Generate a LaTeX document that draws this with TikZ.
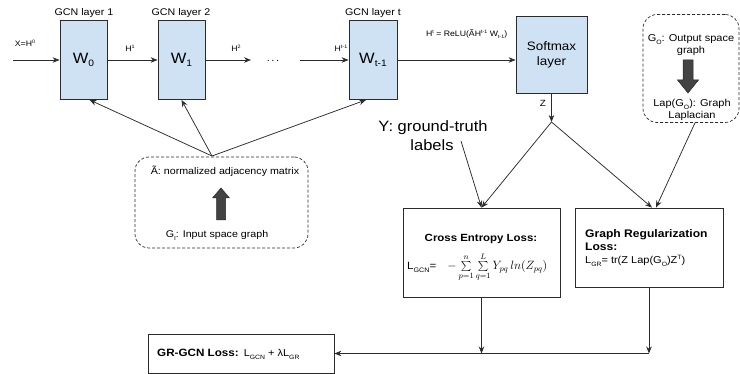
\documentclass[tikz,border=0pt]{standalone}
\usepackage{fontspec}
\setmainfont{Liberation Sans}[FakeStretch=1.1]
\usetikzlibrary{arrows.meta}
\definecolor{boxblue}{HTML}{CFE2F3}
\definecolor{edgec}{HTML}{2B2B2B}
\definecolor{darkarr}{HTML}{434343}
\newcommand\lsub[1]{\raisebox{-0.45ex}{\scalebox{0.62}{#1}}}
\newcommand\lsup[1]{\raisebox{0.85ex}{\scalebox{0.62}{#1}}}
\newcommand\fs[1]{\fontsize{#1}{#1}\selectfont}
\begin{document}
\begin{tikzpicture}[x=1pt,y=-1pt,
  layer/.style={draw=edgec, line width=0.8pt, fill=boxblue, minimum width=47pt, minimum height=79pt, inner sep=0pt, font=\fs{15}},
  plainbox/.style={draw=edgec, line width=0.8pt, fill=white, inner sep=0pt},
  dashbox/.style={draw=edgec, line width=0.7pt, dash pattern=on 3pt off 2pt, rounded corners=14pt, inner sep=0pt},
  conn/.style={draw=edgec, line width=0.75pt, -{Stealth[length=7pt,width=5.5pt]}},
  lbl/.style={font=\fs{7.9}, inner sep=0pt, anchor=base},
  ttl/.style={font=\fs{9.7}, inner sep=0pt, anchor=base},
  txt/.style={inner sep=0pt, anchor=base},
  blockarr/.style={fill=darkarr, draw=black!85, line width=0.5pt}
]
\useasboundingbox (0,0) rectangle (740,374);

% GCN layers
\node[layer] (L1) at (83.5,60) {W\lsub{0}};
\node[layer] (L2) at (181.5,60) {W\lsub{1}};
\node[layer, minimum width=48pt] (Lt) at (373,60) {W\lsub{t-1}};
\node[layer, minimum width=71pt, minimum height=77pt, align=center, font=\fs{12.2}] (SM) at (551.5,54.5) {Softmax\\[3pt]layer};

\node[ttl] (T1) at (84,16) {GCN layer 1};
\node[ttl] (T2) at (181,16) {GCN layer 2};
\node[ttl] (Tt) at (373,16) {GCN layer t};

% forward chain
\coordinate (in) at (13,60);
\coordinate (o2) at (251,60);
\coordinate (i3) at (300,60);
\draw[conn] (in) -- (L1.west);
\draw[conn] (L1.east) -- (L2.west);
\draw[conn] (L2.east) -- (o2);
\draw[conn] (i3) -- (Lt.west);
\draw[conn] (Lt.east) -- (Lt.east -| SM.west);
\node[lbl] (xh) at (25,47) {X=H\lsup{0}};
\node[lbl] (h1) at (130,52) {H\lsup{1}};
\node[lbl] (h2) at (236,52) {H\lsup{2}};
\node[txt, font=\fs{10}] (dots) at (273,62) {.\,.\,.};
\node[lbl] (ht1) at (341,52) {H\lsup{t-1}};
\node[lbl, anchor=base west] (relu) at (426,37) {H\lsup{t} = ReLU(ÃH\lsup{t-1} W\lsub{t-1})};

% Z output
\coordinate (zc) at (551.5,122);
\draw[conn] (SM.south) -- (zc);
\node[txt, font=\fs{9}] (zl) at (543,107) {Z};

% input space graph box
\node[dashbox, minimum width=173pt, minimum height=91pt] (IB) at (221.5,202.5) {};
\node[txt, font=\fs{9.7}] (Atxt) at (225,175) {Ã: normalized adjacency matrix};
\node[txt, font=\fs{9.7}] (Gitxt) at (217,238) {G\lsub{I}: Input space graph};
\fill[blockarr] (216.5,220) -- (216.5,198) -- (212.5,198) -- (221,188) -- (229.5,198) -- (225.5,198) -- (225.5,220) -- cycle;
\coordinate (cv) at (212,156);
\draw[conn] (cv) -- ([xshift=6pt]L1.south);
\draw[conn] (cv) -- (L2.south);
\draw[conn] (cv) -- ([xshift=-7pt]Lt.south);

% output space graph box
\node[dashbox, minimum width=96pt, minimum height=108pt] (OB) at (691,68.5) {};
\node[txt, font=\fs{10}] (Gotxt) at (691,42) {G\lsub{O}: Output space};
\node[txt, font=\fs{10}] (Gotxt2) at (691,54) {graph};
\fill[blockarr] (683,60) -- (693,60) -- (693,80) -- (698.5,80) -- (688,93) -- (677.5,80) -- (683,80) -- cycle;
\node[txt, font=\fs{10}] (Laptxt) at (692,107) {Lap(G\lsub{O}): Graph};
\node[txt, font=\fs{10}] (Laptxt2) at (692,118.5) {Laplacian};

% ground truth
\node[txt, font=\fs{15}] (Y) at (433,132) {Y: ground-truth};
\node[txt, font=\fs{15}] (Y2) at (432,151) {labels};
\coordinate (ya) at (461,141);

% loss boxes
\node[plainbox, minimum width=157pt, minimum height=89pt] (CE) at (481.5,252.5) {};
\node[txt, font=\bfseries\fs{10.4}] (CEt) at (481,242) {Cross Entropy Loss:};
\node[txt, anchor=base west, font=\fs{10.5}] (CEf) at (407,270) {L\lsub{GCN}=\hspace{11pt}{\fontsize{11.5}{12}\selectfont$-\sum\limits_{p=1}^{n}\sum\limits_{q=1}^{L}Y_{pq}\,ln(Z_{pq})$}};

\node[plainbox, minimum width=148pt, minimum height=79pt] (GR) at (649,247.5) {};
\node[txt, anchor=base west, font=\bfseries\fs{11}] (GRt1) at (585,238) {Graph Regularization};
\node[txt, anchor=base west, font=\bfseries\fs{11}] (GRt2) at (585,251) {Loss:};
\node[txt, anchor=base west, font=\fs{10}] (GRf) at (585,264) {L\lsub{GR}= tr(Z Lap(G\lsub{O})Z\lsup{T})};

\draw[conn] (zc) -- (CE.north);
\draw[conn] (ya) -- (CE.north);
\draw[conn] (zc) -- ([xshift=3pt]GR.north);
\draw[conn] ([xshift=4pt]OB.south) -- ([xshift=7pt]GR.north);

% final loss
\node[plainbox, minimum width=186pt, minimum height=39pt] (GG) at (241,353.5) {};
\node[txt, anchor=base west] (GGt) at (157,357) {{\bfseries\fs{10.6}GR-GCN Loss:}\hspace{5pt}{\fs{10}L\lsub{GCN} + λL\lsub{GR}}};
\coordinate (jn) at (GR.south |- GG.east);
\draw[conn] (CE.south) -- (CE.south |- GG.east);
\draw[conn] (GR.south) -- (jn);
\draw[conn] (jn) -- (GG.east);
\end{tikzpicture}
\end{document}
